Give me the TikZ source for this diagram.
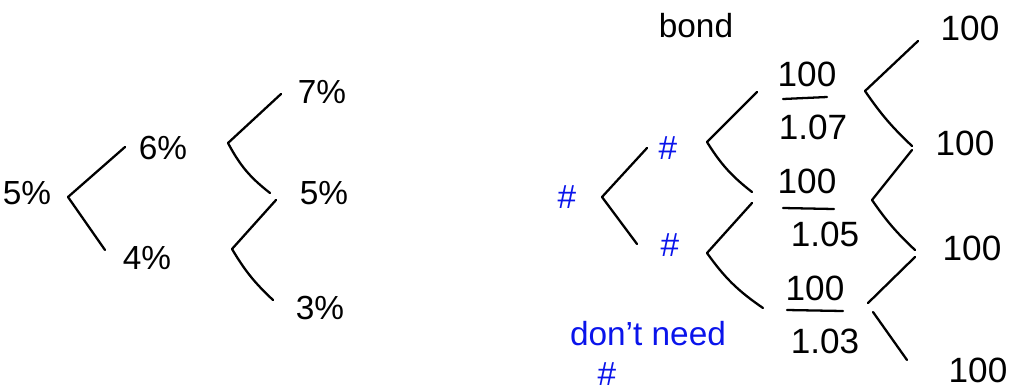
\documentclass[tikz,border=0pt]{standalone}
\usepackage{fontspec}
\setmainfont{Liberation Sans}
\definecolor{handblue}{RGB}{10,20,235}
\begin{document}
\begin{tikzpicture}[x=0.02cm,y=-0.02cm,
  lbl/.style={font=\fontsize{19}{23}\selectfont, inner sep=0pt},
  num/.style={lbl, font=\fontsize{20}{24}\selectfont},
  blu/.style={lbl, text=handblue},
  stroke/.style={line width=1.3pt, line cap=round, line join=round}]
\useasboundingbox (0,0) rectangle (1011,390);
% ---- left tree ----
\node[lbl] (r5) at (27,193) {5\%};
\node[lbl] (u6) at (163,148) {6\%};
\node[lbl] (d4) at (147,258) {4\%};
\node[lbl] (t7) at (322,92) {7\%};
\node[lbl] (m5) at (324,193) {5\%};
\node[lbl] (b3) at (320,308) {3\%};
\coordinate (v1) at (68,197); \coordinate (a1) at (125,147); \coordinate (e1) at (105,250);
\coordinate (v2) at (228,143); \coordinate (a2) at (281,94); \coordinate (e2) at (270,193);
\coordinate (v3) at (232,249); \coordinate (a3) at (276,200); \coordinate (e3) at (273,300);
\draw[stroke] (a1) -- (v1) -- (e1);
\draw[stroke] (a2) -- (v2) to[bend right=12] (e2);
\draw[stroke] (a3) -- (v3) to[bend right=8] (e3);
% ---- right tree ----
\node[lbl] (bond) at (696,26) {bond};
\node[blu] (h0) at (567,197) {\#};
\node[blu] (h1) at (668,148) {\#};
\node[blu] (h2) at (670,245) {\#};
\coordinate (v4) at (602,197); \coordinate (a4) at (647,148); \coordinate (e4) at (637,244);
\coordinate (v5) at (707,142); \coordinate (a5) at (757,92); \coordinate (e5) at (752,192);
\coordinate (v6) at (707,253); \coordinate (a6) at (752,203); \coordinate (e6) at (763,308);
\draw[stroke] (a4) -- (v4) -- (e4);
\draw[stroke] (a5) -- (v5) to[bend right=10] (e5);
\draw[stroke] (a6) -- (v6) to[bend right=10] (e6);
% fractions
\node[num] (n1) at (807,74) {100};
\coordinate (p1) at (783,99); \coordinate (q1) at (827,97);
\node[num] (d1) at (813,127) {1.07};
\node[num] (n2) at (807,181) {100};
\coordinate (p2) at (783,208); \coordinate (q2) at (834,209);
\node[num] (d2) at (825,234) {1.05};
\node[num] (n3) at (815,288) {100};
\coordinate (p3) at (787,310); \coordinate (q3) at (843,311);
\node[num] (d3) at (825,341) {1.03};
\draw[stroke] (p1) -- (q1);
\draw[stroke] (p2) -- (q2);
\draw[stroke] (p3) -- (q3);
\coordinate (v7) at (865,91); \coordinate (a7) at (918,41); \coordinate (e7) at (912,146);
\coordinate (v8) at (872,200); \coordinate (a8) at (912,150); \coordinate (e8) at (915,250);
\coordinate (v9) at (868,303); \coordinate (a9) at (915,257);
\coordinate (s9) at (873,312); \coordinate (e9) at (907,360);
\draw[stroke] (a7) -- (v7) to[bend right=6] (e7);
\draw[stroke] (a8) -- (v8) to[bend right=6] (e8);
\draw[stroke] (a9) -- (v9);
\draw[stroke] (s9) -- (e9);
\node[num] (c1) at (970,28) {100};
\node[num] (c2) at (965,143) {100};
\node[num] (c3) at (972,248) {100};
\node[num] (c4) at (978,370) {100};
\node[blu] (dn) at (648,334) {don't need};
\node[blu] (h3) at (607,374) {\#};
\end{tikzpicture}
\end{document}
